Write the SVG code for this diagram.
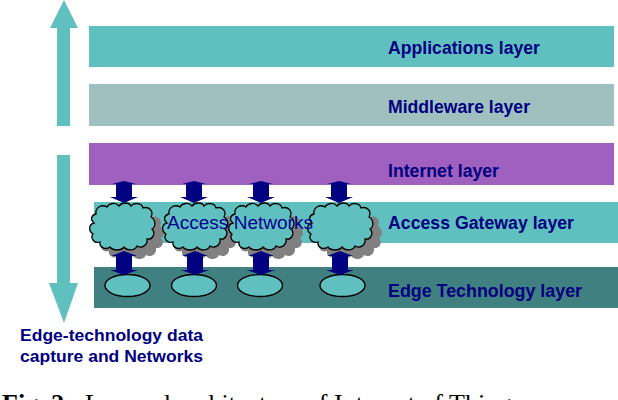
<svg xmlns="http://www.w3.org/2000/svg" xmlns:xlink="http://www.w3.org/1999/xlink" width="618" height="400" viewBox="0 0 618 400">
<style>
.lbl{font-family:"Liberation Sans",Arial,sans-serif;font-size:18px;font-weight:bold;fill:#000080}
.side{font-family:"Liberation Sans",Arial,sans-serif;font-size:17px;font-weight:bold;fill:#000080}
.net{font-family:"Liberation Sans",Arial,sans-serif;font-size:18px;fill:#000090}
.cloud{fill:#60C0C0;stroke:#000;stroke-width:1.3}
.shadow{fill:#808080}
.dev{fill:#60C0C0;stroke:#000;stroke-width:1.4}
.conn{fill:#000080}
.big{fill:#60C0C0}
.cap{font-family:"Liberation Serif","Times New Roman",serif;font-size:26px;fill:#000}
</style>
<defs>
<path id="cl" d="M7,12 C6,5 13,2 18,5 C20,1 27,0 30,4 C33,0 40,0 42,4 C45,0 53,1 54,6 C60,4 65,9 62,15 C67,18 67,25 63,27 C67,31 64,38 58,37 C59,43 53,47 48,44 C46,49 38,49 35,45 C32,49 24,49 21,45 C17,48 10,46 11,40 C5,42 1,36 4,32 C-1,29 0,22 5,21 C1,18 2,13 7,12 Z"/>
<path id="arA" d="M-12,3 L0,0 L12,3 L8,3 L8,16 L14,16 L0,22 L-14,16 L-8,16 L-8,3 Z"/>
<path id="arB" d="M-13,5 L0,0 L13,5 L8,5 L8,19 L14,19 L0,24 L-14,19 L-8,19 L-8,5 Z"/>
</defs>

<g id="big-arrows">
<polygon class="big" points="64,0 78,28 70,28 70,126 57,126 57,28 50,28"/>
<polygon class="big" points="57,155 70,155 70,283 78,283 64,323 49,283 57,283"/>
</g>

<g id="applications-layer">
<rect x="89" y="26" width="525" height="41" fill="#60C0C0"/>
<text class="lbl" x="388" y="54" textLength="152" lengthAdjust="spacingAndGlyphs">Applications layer</text>
</g>
<g id="middleware-layer">
<rect x="89" y="84" width="525" height="42" fill="#A0C0C0"/>
<text class="lbl" x="388" y="113" textLength="142" lengthAdjust="spacingAndGlyphs">Middleware layer</text>
</g>
<g id="internet-layer">
<rect x="89" y="143" width="525" height="42" fill="#A060C0"/>
<text class="lbl" x="388" y="177" textLength="111" lengthAdjust="spacingAndGlyphs">Internet layer</text>
</g>
<g id="access-gateway-layer">
<rect x="94" y="202" width="524" height="41" fill="#60C0C0"/>
<text class="lbl" x="388" y="229" textLength="186" lengthAdjust="spacingAndGlyphs">Access Gateway layer</text>
</g>
<g id="edge-technology-layer">
<rect x="94" y="267" width="524" height="41" fill="#408080"/>
<text class="lbl" x="388" y="297" textLength="194" lengthAdjust="spacingAndGlyphs">Edge Technology layer</text>
</g>

<g id="cloud-shadows">
<use href="#cl" class="shadow" transform="translate(98,211)"/>
<use href="#cl" class="shadow" transform="translate(171,211)"/>
<use href="#cl" class="shadow" transform="translate(237,211)"/>
<use href="#cl" class="shadow" transform="translate(316,211)"/>
</g>
<g id="cloud-1"><use href="#cl" class="cloud" transform="translate(89,202)"/></g>
<g id="cloud-2"><use href="#cl" class="cloud" transform="translate(162,202)"/></g>
<g id="cloud-3"><use href="#cl" class="cloud" transform="translate(228,202)"/></g>
<g id="cloud-4"><use href="#cl" class="cloud" transform="translate(307,202)"/></g>
<g id="access-networks-label">
<text class="net" x="167" y="229" textLength="146" lengthAdjust="spacingAndGlyphs">Access Networks</text>
</g>

<g id="device-1"><ellipse class="dev" cx="127.5" cy="285.5" rx="22.5" ry="11"/></g>
<g id="device-2"><ellipse class="dev" cx="194" cy="285.5" rx="22.5" ry="11"/></g>
<g id="device-3"><ellipse class="dev" cx="260" cy="285.5" rx="22.5" ry="11"/></g>
<g id="device-4"><ellipse class="dev" cx="342.5" cy="285.5" rx="22.5" ry="11"/></g>

<g id="connectors">
<use href="#arA" class="conn" transform="translate(124,181)"/>
<use href="#arA" class="conn" transform="translate(194,181)"/>
<use href="#arA" class="conn" transform="translate(261,181)"/>
<use href="#arA" class="conn" transform="translate(339,181)"/>
<use href="#arB" class="conn" transform="translate(124,251)"/>
<use href="#arB" class="conn" transform="translate(195,251)"/>
<use href="#arB" class="conn" transform="translate(261,251)"/>
<use href="#arB" class="conn" transform="translate(340,251)"/>
</g>

<g id="side-label">
<text class="side" x="20" y="341" textLength="183" lengthAdjust="spacingAndGlyphs">Edge-technology data</text>
<text class="side" x="20" y="362" textLength="183" lengthAdjust="spacingAndGlyphs">capture and Networks</text>
</g>

<g id="caption">
<text class="cap" x="2" y="412"><tspan font-weight="bold">Fig. 2:</tspan><tspan x="85">Layered architecture of Internet of Things</tspan></text>
</g>
</svg>
